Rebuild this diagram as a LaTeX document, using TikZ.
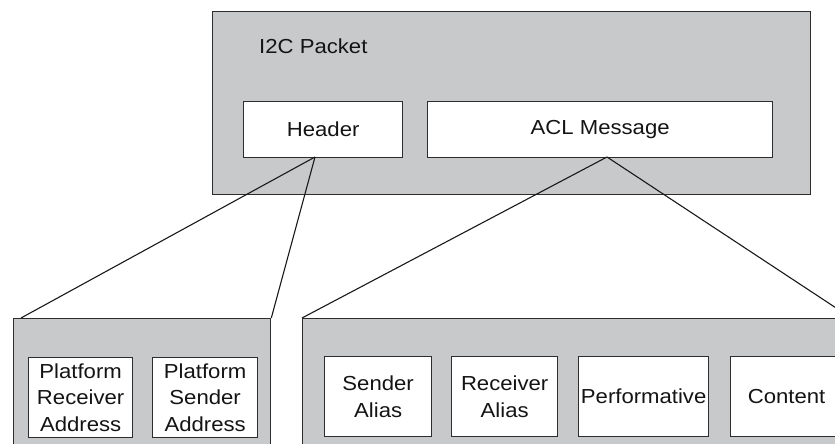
\documentclass[tikz,border=0pt]{standalone}
\usepackage{fontspec}
\setmainfont{Liberation Sans}[FakeStretch=1.09]
\definecolor{panelgrey}{RGB}{200,201,203}
\definecolor{edgegrey}{RGB}{45,45,45}
\begin{document}
\begin{tikzpicture}[x=1pt,y=-1pt,
  panel/.style={draw=edgegrey,fill=panelgrey,line width=1.3pt,rectangle,inner sep=0pt,anchor=north west},
  field/.style={draw=edgegrey,fill=white,line width=1.3pt,rectangle,inner sep=0pt,anchor=north west,
    align=center,font=\fontsize{20.3}{26.5}\selectfont,text=black!92},
  link/.style={draw=black!90,line width=1.1pt}]
\useasboundingbox (0,0) rectangle (835,444);
\clip (0,0) rectangle (835,444);

% I2C packet with its two parts
\node[panel,minimum width=598,minimum height=183] (pkt) at (212,11) {};
\node[anchor=base west,inner sep=0pt,font=\fontsize{20.3}{26}\selectfont,text=black!92] (pktlbl) at (259,54) {I2C Packet};
\node[field,minimum width=159,minimum height=56] (hdr) at (243,101) {Header};
\node[field,minimum width=345,minimum height=56] (acl) at (427,101) {ACL Message};

% header breakdown
\node[panel,minimum width=257,minimum height=160] (hgrp) at (13,318) {};
\node[field,minimum width=104,minimum height=80] (pra) at (28,357) {Platform\\Receiver\\Address};
\node[field,minimum width=105,minimum height=80] (psa) at (152,357) {Platform\\Sender\\Address};

% ACL message breakdown
\node[panel,minimum width=548,minimum height=160] (agrp) at (302,318) {};
\node[field,minimum width=107,minimum height=80] (salias) at (324,356) {Sender\\Alias};
\node[field,minimum width=106,minimum height=80] (ralias) at (451,356) {Receiver\\Alias};
\node[field,minimum width=130,minimum height=80] (perf) at (578,356) {Performative};
\node[field,minimum width=112,minimum height=80] (cont) at (730,356) {Content};

% attachment points of the expansion lines
\coordinate (hdrtip) at (315,157);
\coordinate (acltip) at (607,157);
\coordinate (hgrpl) at (21,318);

\draw[link] (hdrtip) -- (hgrpl);
\draw[link] (hdrtip) -- (hgrp.north east);
\draw[link] (acltip) -- (agrp.north west);
\draw[link] (acltip) -- (agrp.north east);
\end{tikzpicture}
\end{document}
